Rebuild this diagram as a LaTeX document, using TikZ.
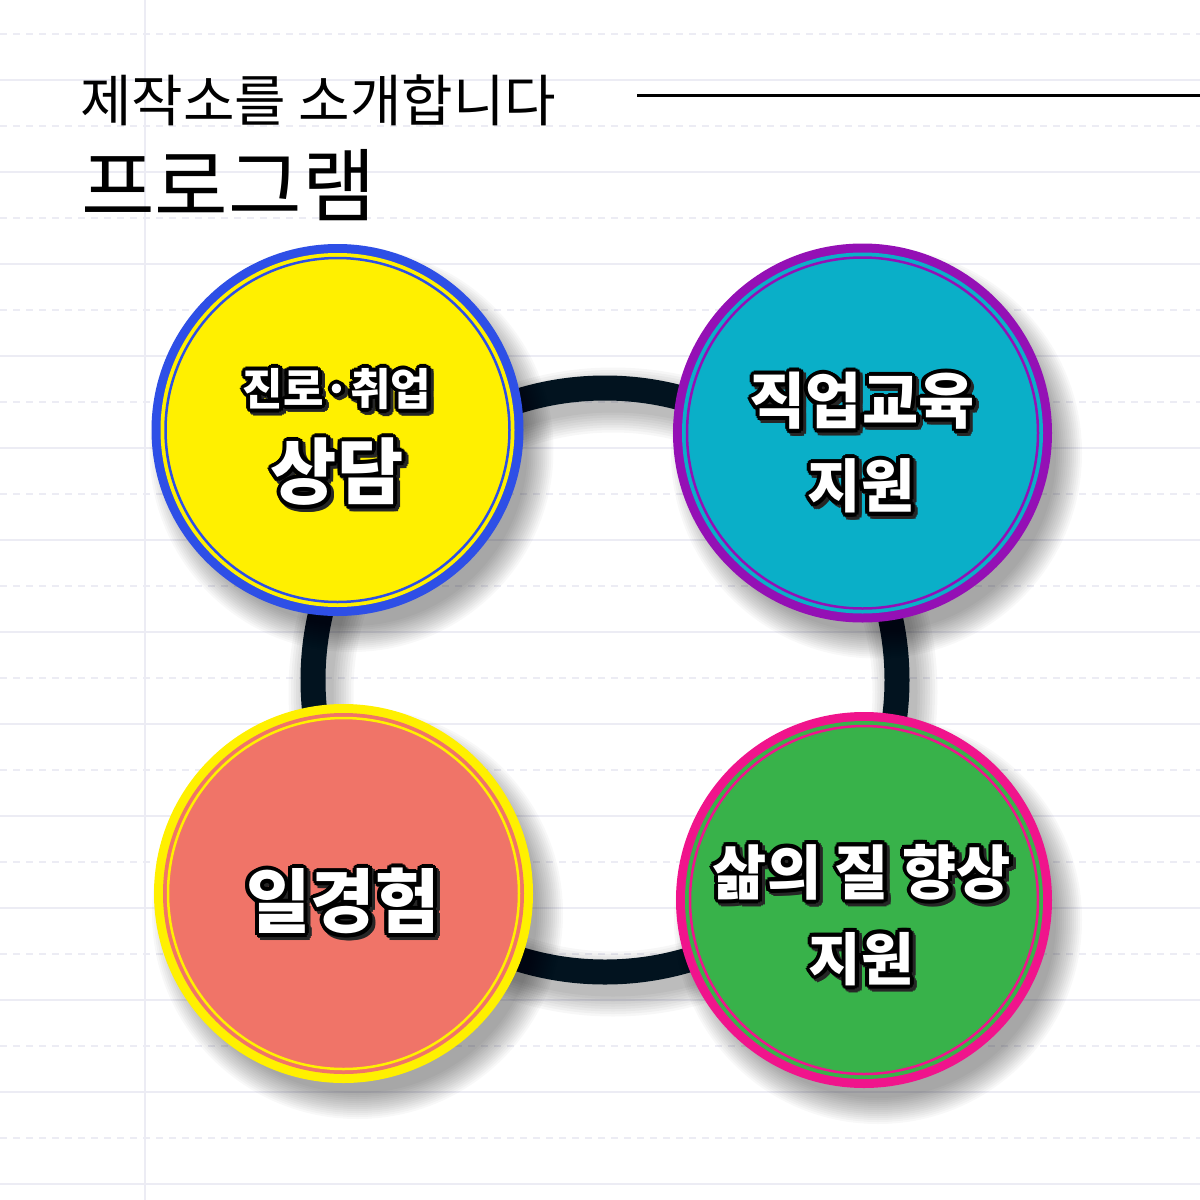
\documentclass[tikz,border=0pt]{standalone}
\usepackage{fontspec}
\usetikzlibrary{calc}
\newfontfamily\krfont{Noto Sans CJK KR}

\definecolor{gridline}{HTML}{ECECF4}
\definecolor{ringnavy}{HTML}{02131F}
\definecolor{lemon}{HTML}{FFF000}
\definecolor{royal}{HTML}{2E4FE6}
\definecolor{teal}{HTML}{0AAFC8}
\definecolor{violet}{HTML}{9410B5}
\definecolor{salmon}{HTML}{F07468}
\definecolor{leaf}{HTML}{38B24A}
\definecolor{hotpink}{HTML}{F0148C}

\tikzset{
  gridsolid/.style={gridline, line width=2},
  griddash/.style={gridline, line width=2, dash pattern=on 7pt off 6pt},
  badgefont/.style={font=\krfont\bfseries, inner sep=0pt, align=center},
  titlefont/.style={font=\krfont, inner sep=0pt, anchor=west}
}

% medal: name, centre, radius, face colour, rim colour
\newcommand{\medal}[5]{%
  \coordinate (#1) at (#2);
  \foreach \k in {0,...,13}
    \fill[black, opacity=0.028] ($(#1)+(14,20)$) circle ({#3+16-2*\k});
  \fill[#5] (#1) circle (#3);
  \fill[#4] (#1) circle ({#3-9});
  \draw[#5, line width=2.5] (#1) circle ({#3-14});
}

% puffy label: name, position, size, text
\newcommand{\puffy}[4]{%
  \foreach \a in {0,30,...,330}
    \node[badgefont, text=black!85] at ($(#2)+(\a:4)+(3,3)$) {\fontsize{#3}{#3}\selectfont #4};
  \foreach \a in {0,30,...,330}
    \node[badgefont, text=black] at ($(#2)+(\a:4)$) {\fontsize{#3}{#3}\selectfont #4};
  \node[badgefont, text=white] (#1) at (#2) {\fontsize{#3}{#3}\selectfont #4};
}

\begin{document}
\begin{tikzpicture}[x=1pt, y=-1pt]

\useasboundingbox (0,0) rectangle (1200,1200);
\fill[white] (0,0) rectangle (1200,1200);

% Ruled paper
\foreach \k in {0,...,12} {
  \draw[griddash] (0,{34+92*\k}) -- (1200,{34+92*\k});
  \draw[gridsolid] (0,{80+92*\k}) -- (1200,{80+92*\k});
}
\draw[gridsolid] (145,0) -- (145,1200);

% Title
\node[titlefont] (intro) at (80,100) {\fontsize{56}{56}\selectfont 제작소를 소개합니다};
\node[titlefont] (heading) at (81,185) {\fontsize{80}{80}\selectfont 프로그램};
\draw[line width=3] (637,95) -- (1200,95);

% Ring behind the medals
\coordinate (ring) at (605,680);
\foreach \k in {0,...,8}
  \draw[black, opacity=0.03, line width={25+5*\k}] ($(ring)+(8,12)$) circle (292);
\draw[ringnavy, line width=25] (ring) circle (292);

% Medals
\medal{counsel}{337.5,430}{186}{lemon}{royal}
\medal{training}{862.5,433}{189.5}{teal}{violet}
\medal{workexp}{343.5,893.5}{189.5}{salmon}{lemon}
\medal{wellbeing}{864,900}{188}{leaf}{hotpink}

% Labels
\puffy{counsel-top}{337,389}{44}{진로·취업}
\puffy{counsel-bot}{337,472}{72}{상담}
\puffy{training-top}{862,401}{61}{직업교육}
\puffy{training-bot}{861,486}{58}{지원}
\puffy{workexp-lbl}{343,901}{70}{일경험}
\puffy{wellbeing-top}{862,872}{59}{삶의 질 향상}
\puffy{wellbeing-bot}{861,959}{57}{지원}

\end{tikzpicture}
\end{document}
